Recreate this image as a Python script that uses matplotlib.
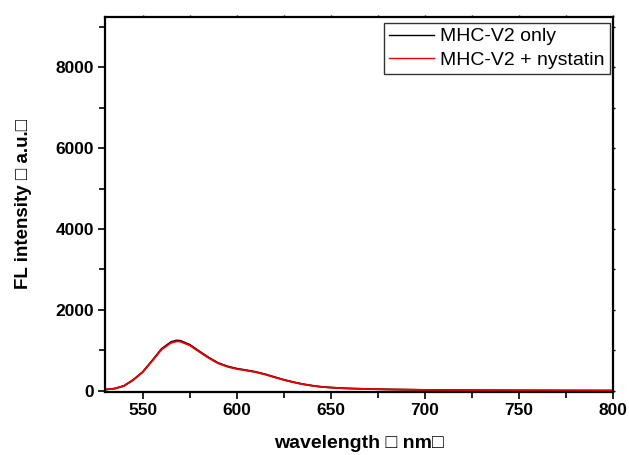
import matplotlib
matplotlib.use("Agg")
import matplotlib.pyplot as plt
from matplotlib.ticker import MultipleLocator

wavelength = [530, 535, 540, 545, 550, 555, 560, 565, 568, 570, 575, 580, 585, 590,
              595, 600, 605, 610, 615, 620, 625, 630, 635, 640, 645, 650, 655, 660,
              670, 680, 690, 700, 720, 750, 800]
only = [30, 52, 120, 270, 465, 745, 1035, 1205, 1245, 1238, 1140, 980, 825, 690,
        605, 548, 510, 468, 410, 340, 272, 215, 165, 127, 97, 80, 66, 56,
        43, 34, 27, 21, 14, 9, 5]
nystatin = [30, 52, 119, 267, 460, 735, 1018, 1183, 1222, 1216, 1122, 965, 812, 678,
            594, 538, 501, 460, 402, 333, 266, 210, 161, 124, 95, 78, 64, 55,
            42, 33, 26, 20, 13, 8, 5]
series_labels = ["MHC-V2 only", "MHC-V2 + nystatin"]
xlabel = "wavelength \u25a1 nm\u25a1"
ylabel = "FL intensity \u25a1 a.u.\u25a1"

plt.rcParams['font.family'] = ['Liberation Sans', 'DejaVu Sans']

fig = plt.figure(figsize=(6.29, 4.55), dpi=100)
ax = fig.add_axes([0.167, 0.139, 0.808, 0.824])
ax.plot(wavelength, only, color='black', lw=1.3, label=series_labels[0])
ax.plot(wavelength, nystatin, color='#ee0000', lw=1.3, label=series_labels[1])

ax.set_xlim(530, 800)
ax.set_ylim(-25, 9250)
ax.xaxis.set_major_locator(MultipleLocator(50))
ax.xaxis.set_minor_locator(MultipleLocator(25))
ax.yaxis.set_major_locator(MultipleLocator(2000))
ax.yaxis.set_minor_locator(MultipleLocator(1000))
ax.tick_params(which='both', direction='out', width=1.2, pad=3)
ax.tick_params(which='major', length=5)
ax.tick_params(which='minor', length=4)
for s in ax.spines.values():
    s.set_linewidth(1.6)
for lab in ax.get_xticklabels() + ax.get_yticklabels():
    lab.set_fontweight('bold')
    lab.set_fontsize(12.5)

# tiny tick marks on the top and right spines
secx = ax.secondary_xaxis('top')
secx.xaxis.set_major_locator(MultipleLocator(25))
secx.tick_params(length=1.5, width=1.0, labeltop=False, direction='out')
secy = ax.secondary_yaxis('right')
secy.yaxis.set_major_locator(MultipleLocator(1000))
secy.tick_params(length=1.5, width=1.0, labelright=False, direction='out')
for sa in (secx, secy):
    for s in sa.spines.values():
        s.set_visible(False)

ax.set_xlabel(xlabel, fontsize=14, fontweight='bold', labelpad=12)
ax.set_ylabel(ylabel, fontsize=13.5, fontweight='bold', labelpad=17)

leg = ax.legend(loc='upper right', bbox_to_anchor=(0.993, 0.984), fontsize=14,
                frameon=True, fancybox=False, edgecolor='black', borderpad=0.25,
                handlelength=2.3, handletextpad=0.35, labelspacing=0.3,
                borderaxespad=0.0)
leg.get_frame().set_linewidth(1.0)
for line in leg.get_lines():
    line.set_linewidth(1.0)

fig.savefig("out.png", dpi=100)
